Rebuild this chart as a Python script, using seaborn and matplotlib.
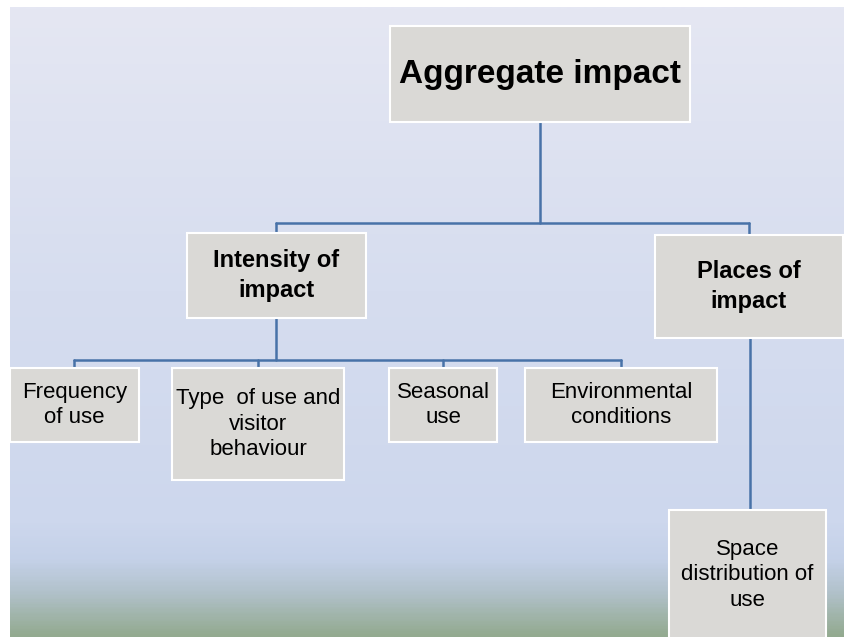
import matplotlib
matplotlib.use("Agg")
import matplotlib.pyplot as plt
from matplotlib.colors import LinearSegmentedColormap
from matplotlib.patches import Rectangle
import numpy as np
import pandas as pd
import seaborn as sns

# tree nodes: label and parent
nodes = ["Aggregate impact", "Intensity of\nimpact", "Places of\nimpact",
         "Frequency\nof use", "Type  of use and\nvisitor\nbehaviour", "Seasonal\nuse",
         "Environmental\nconditions", "Space\ndistribution of\nuse"]
parents = [None, 0, 0, 1, 1, 1, 1, 2]
bold = [True, True, True, False, False, False, False, False]

# layout in pixels (x0, y0, x1, y1), y going down
boxes = [(390, 26, 690, 122), (187, 233, 366, 318), (655, 235, 843, 338),
         (10, 368, 139, 442), (172, 368, 344, 480), (389, 368, 497, 442),
         (525, 368, 717, 442), (669, 510, 826, 640)]
bus_y = {0: 223, 1: 360, 2: None}
font_sizes = [24, 17, 17, 16, 16, 16, 16, 16]

W, H = 845, 637
sns.set_theme(style="white")
plt.rcParams["font.family"] = ["Liberation Sans", "DejaVu Sans"]

fig = plt.figure(figsize=(W / 100, H / 100), dpi=100)
ax = fig.add_axes([0, 0, 1, 1])

# background gradient
stops = [(0.0, "#e5e7f3"), (0.45, "#d6ddef"), (0.82, "#cdd7ed"), (0.88, "#c4d1e8"),
         (0.93, "#b2c2cc"), (1.0, "#93aa90")]
cmap = LinearSegmentedColormap.from_list("bg", stops)
grad = np.linspace(0, 1, 400).reshape(-1, 1)
ax.imshow(grad, cmap=cmap, aspect="auto", extent=[10, W, H, 7], zorder=0)

# connectors
rows = []
edge = 0
for p in sorted(set(q for q in parents if q is not None)):
    kids = [i for i, q in enumerate(parents) if q == p]
    px0, py0, px1, py1 = boxes[p]
    pcx = (px0 + px1) / 2
    by = bus_y[p]
    if by is None:
        for k in kids:
            rows += [(edge, pcx + 1, py1), (edge, pcx + 1, boxes[k][1])]
            edge += 1
        continue
    rows += [(edge, pcx, py1), (edge, pcx, by)]
    edge += 1
    kcx = [(boxes[k][0] + boxes[k][2]) / 2 for k in kids]
    rows += [(edge, min(kcx), by), (edge, max(kcx), by)]
    edge += 1
    for k, cx in zip(kids, kcx):
        rows += [(edge, cx, by), (edge, cx, boxes[k][1])]
        edge += 1
edges = pd.DataFrame(rows, columns=["edge", "x", "y"])
sns.lineplot(data=edges, x="x", y="y", units="edge", estimator=None, sort=False,
             color="#4872a8", linewidth=1.8, ax=ax, zorder=1)
ax.set_xlim(0, W)
ax.set_ylim(H, 0)
ax.axis("off")

# boxes
for i, lab in enumerate(nodes):
    x0, y0, x1, y1 = boxes[i]
    ax.add_patch(Rectangle((x0, y0), x1 - x0, y1 - y0, facecolor="#dad9d6",
                           edgecolor="white", linewidth=1.5, zorder=2))
    ty = (y0 + y1) / 2
    if i == 7:
        ty = 575
    ax.text((x0 + x1) / 2, ty, lab, ha="center", va="center",
            fontsize=font_sizes[i], fontweight="bold" if bold[i] else "normal",
            color="black", linespacing=1.35 if bold[i] else 1.3, zorder=3)

fig.savefig("out.png", dpi=100)
